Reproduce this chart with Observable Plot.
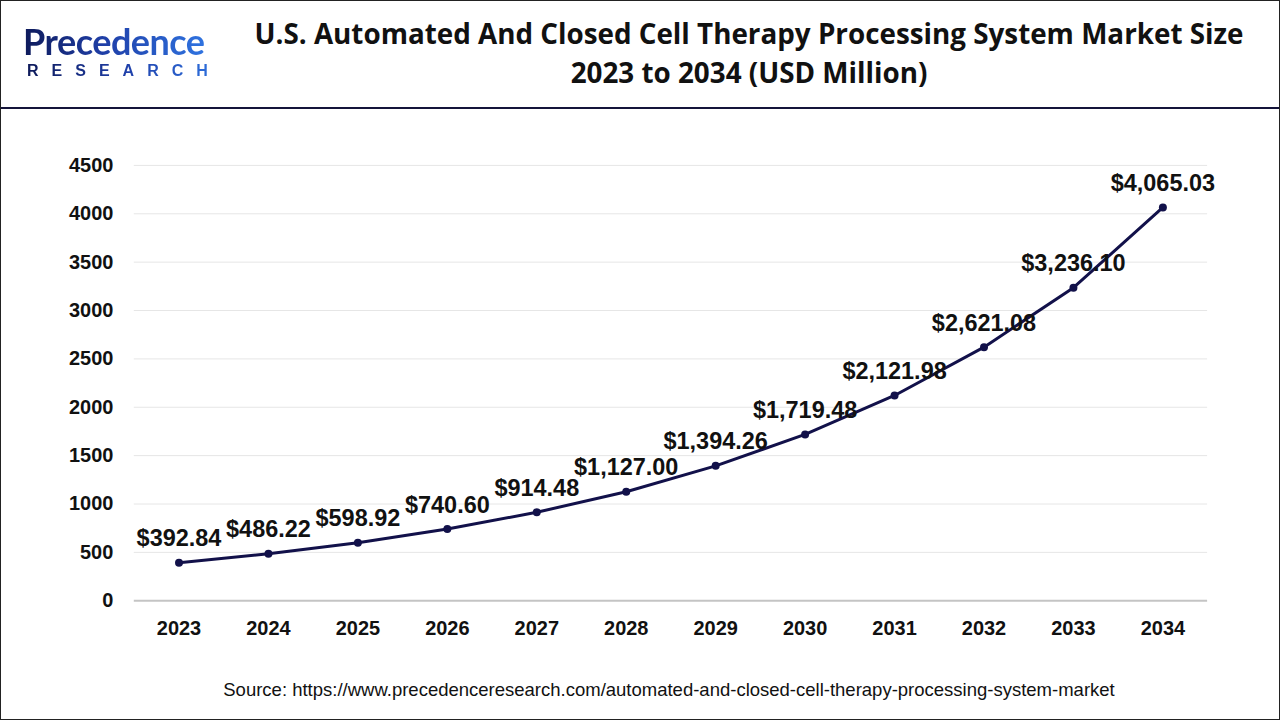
<!DOCTYPE html>
<html>
<head>
<meta charset="utf-8">
<script src="https://cdn.jsdelivr.net/npm/d3@7"></script>
<script src="https://cdn.jsdelivr.net/npm/@observablehq/plot@0.6"></script>
<style>
  html, body { margin: 0; padding: 0; background: #fff; }
  #page { position: relative; width: 1280px; height: 720px; box-sizing: border-box; border: 1px solid #222; overflow: hidden; font-family: "Liberation Sans", Arial, sans-serif; }
  #header { position: absolute; left: 0; top: 0; width: 1278px; height: 106px; border-bottom: 2px solid #14143a; }
  #logo1 { position: absolute; left: 22px; top: 22px; font-family: "Lato", "Open Sans", sans-serif; font-size: 36px; font-weight: 700; letter-spacing: -0.5px;
    background: linear-gradient(90deg, #0e1a5a 0%, #1f3fa8 45%, #2f73e0 100%); -webkit-background-clip: text; background-clip: text; color: transparent; line-height: 1; }
  #logo2 { position: absolute; left: 26px; top: 62px; font-family: "Liberation Sans", Arial, sans-serif; font-size: 16px; font-weight: 700; letter-spacing: 13px;
    background: linear-gradient(90deg, #0e1a5a 0%, #1f3fa8 50%, #2f73e0 100%); -webkit-background-clip: text; background-clip: text; color: transparent; line-height: 1; }
  #title { position: absolute; left: 230px; width: 1036px; top: 13px; text-align: center; font-family: "Open Sans", sans-serif; font-weight: 700; font-size: 27.8px; line-height: 39px; color: #111; }
  #chart { position: absolute; left: 0; top: 108px; }
  #source { position: absolute; left: 0; width: 1336px; top: 678px; text-align: center; font-size: 18.5px; color: #111; }
</style>
</head>
<body>
<div id="page">
  <div id="header">
    <div id="logo1">Precedence</div>
    <div id="logo2">RESEARCH</div>
    <div id="title">U.S. Automated And Closed Cell Therapy Processing System Market Size<br>2023 to 2034 (USD Million)</div>
  </div>
  <div id="chart"></div>
  <div id="source">Source: https://www.precedenceresearch.com/automated-and-closed-cell-therapy-processing-system-market</div>
</div>
<script>
const years = ["2023","2024","2025","2026","2027","2028","2029","2030","2031","2032","2033","2034"];
const values = [392.84, 486.22, 598.92, 740.60, 914.48, 1127.00, 1394.26, 1719.48, 2121.98, 2621.08, 3236.10, 4065.03];
const yTicks = [0, 500, 1000, 1500, 2000, 2500, 3000, 3500, 4000, 4500];

const data = years.map((y, i) => ({year: y, value: values[i]}));
const fmt = v => "$" + d3.format(",.2f")(v);

const chart = Plot.plot({
  width: 1280,
  height: 560,
  marginLeft: 133,
  marginRight: 72,
  marginTop: 56,
  marginBottom: 68,
  style: { fontFamily: "'Liberation Sans', Arial, sans-serif", background: "transparent" },
  x: { type: "point", domain: years, padding: 0.5, round: false, label: null, tickSize: 0, tickPadding: 20 },
  y: { domain: [0, 4500], ticks: yTicks, label: null, tickSize: 0, tickPadding: 21 },
  marks: [
    Plot.gridY(yTicks.filter(t => t > 0), { stroke: "#e6e6e6", strokeOpacity: 1, strokeWidth: 1 }),
    Plot.ruleY([0], { stroke: "#c4c4c4", strokeWidth: 2 }),
    Plot.axisX({ tickSize: 0, tickPadding: 20, fontSize: 20, fontWeight: 700, fill: "#111" }),
    Plot.axisY({ ticks: yTicks, tickSize: 0, tickPadding: 21, fontSize: 20, fontWeight: 700, fill: "#111", tickFormat: d3.format("d") }),
    Plot.line(data, { x: "year", y: "value", stroke: "#12114a", strokeWidth: 3 }),
    Plot.dot(data, { x: "year", y: "value", r: 4, fill: "#12114a", stroke: "none" }),
    Plot.text(data, { x: "year", y: "value", text: d => fmt(d.value), dy: -24, fontSize: 23.5, fontWeight: 700, fill: "#111" })
  ]
});
document.getElementById("chart").appendChild(chart);
</script>
</body>
</html>
